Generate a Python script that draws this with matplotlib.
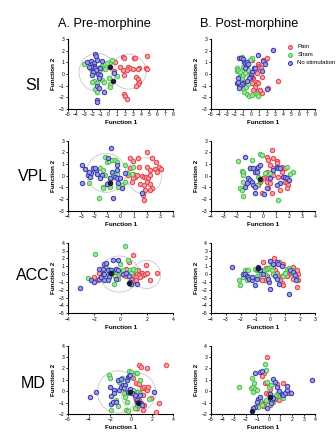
import matplotlib
matplotlib.use('Agg')
import matplotlib.pyplot as plt
from matplotlib.patches import Ellipse
from matplotlib.ticker import MultipleLocator

plt.rcParams['font.family'] = ['Liberation Sans', 'DejaVu Sans']

RED = '#e4464e'
GREEN = '#4cc24c'
BLUE = '#3b3bb5'
DARK = '#1a1a33'

# discriminant scores per region / condition / group (Function 1, Function 2)
si_pre_pain = [(0.76, 1.06), (1.75, 1.43), (1.95, 1.40), (3.09, 1.40), (3.30, 1.40), (4.81, 1.57),
               (2.36, 0.63), (1.46, 0.57), (2.69, 0.54), (2.97, 0.40), (3.71, 0.49), (3.59, 0.40),
               (4.61, 0.49), (4.73, 0.43), (1.79, 0.34), (2.28, 0.34), (1.95, -0.09), (3.42, -0.29),
               (3.59, -0.43), (3.71, -0.66), (3.59, -0.89), (3.42, -1.00), (1.95, -1.74), (2.07, -1.86),
               (2.28, -2.17), (0.64, 0.29)]
si_pre_sham = [(-3.04, 0.86), (-2.30, 0.49), (-2.02, 0.26), (-1.81, 0.14), (-1.48, 0.06), (-1.20, 0.20),
               (-1.08, 0.63), (-0.79, 0.71), (-0.58, 0.49), (-0.99, 0.34), (0.03, 0.63), (0.23, 1.06),
               (-1.81, -0.60), (-2.02, -0.66), (-1.40, -0.80), (-0.79, -0.51), (-0.58, -0.66),
               (0.03, -0.37), (0.15, -0.89), (0.23, -1.09), (-1.61, -1.29), (-1.40, -1.51),
               (-0.38, 0.43), (1.05, -0.14), (0.44, 1.20), (-0.17, 0.91)]
si_pre_nostim = [(-1.61, 1.71), (-1.52, 1.54), (-2.63, 1.06), (-2.22, 1.11), (-2.02, 0.83), (-1.81, 0.91),
                 (-1.73, 0.69), (-1.89, 0.57), (-2.02, 0.49), (-2.22, 0.63), (-1.61, 0.49), (-1.40, 1.20),
                 (-0.79, 1.14), (-0.99, 0.49), (-1.52, 0.34), (-1.89, 0.20), (-1.32, -0.03),
                 (-0.99, -0.09), (-1.20, -0.31), (-1.40, -1.00), (-1.20, -1.17), (-0.58, -1.57),
                 (-1.40, -2.23), (-1.48, -2.43), (-2.42, 0.57), (-2.02, -0.09), (0.64, 0.06)]
si_pre_dark = [(0.15, 0.57), (0.52, -0.57)]

si_post_pain = [(0.18, 1.20), (0.92, 0.83), (1.05, 0.71), (1.13, 0.63), (1.21, 0.49), (0.71, 0.49),
                (0.63, 0.26), (0.71, 0.06), (1.34, -0.23), (0.30, -0.37), (0.09, -0.23), (-0.11, -0.51),
                (0.71, -0.66), (0.92, -0.80), (0.51, -0.94), (0.09, -0.80), (0.51, -1.09), (0.30, -1.37),
                (0.92, -1.46), (1.34, -1.66), (1.13, -1.37), (2.16, -1.17), (3.41, -0.60), (1.46, 1.20),
                (1.75, 1.20), (1.96, 1.34), (-0.11, 0.14)]
si_post_sham = [(-1.77, 0.49), (-1.69, 0.26), (-1.56, 0.34), (-1.36, 0.20), (-1.44, -0.23), (-1.36, -0.43),
                (-1.15, -0.31), (-1.02, -0.09), (-0.86, -0.66), (-1.36, -0.66), (-1.56, -0.89),
                (-0.94, -1.23), (-0.86, -1.51), (-0.53, -1.74), (-0.20, -1.86), (0.09, -1.80),
                (0.71, -1.74), (0.92, -1.86), (-0.61, -1.09), (-0.32, -0.89), (0.09, 1.40),
                (-0.11, 1.20), (-1.15, 1.46), (-0.32, 0.34), (-0.94, 0.63), (-0.74, 0.06)]
si_post_nostim = [(-1.44, 1.40), (-1.27, 1.34), (-0.94, 1.29), (-0.86, 1.00), (-0.74, 0.91), (-0.53, 1.06),
                  (-0.45, 0.77), (-0.32, 0.83), (0.38, 0.49), (0.51, 0.54), (0.09, 0.20), (-0.03, -0.09),
                  (-0.11, -0.23), (-0.20, -0.37), (-0.53, -0.60), (-0.94, -0.80), (-1.15, -0.89),
                  (-1.36, -1.00), (-1.77, -0.80), (-1.56, -0.66), (-1.44, -1.23), (0.92, 1.63),
                  (2.78, 2.06), (2.04, -1.31), (1.54, 1.11), (1.75, 0.83), (1.34, 0.26), (-0.74, 0.54),
                  (-1.56, -0.37)]
si_post_dark = []

vpl_pre_pain = [(0.71, 1.54), (0.91, 1.26), (1.35, 1.49), (2.03, 2.00), (2.36, 1.54), (2.69, 1.20),
                (2.94, 0.77), (3.05, 0.57), (0.71, 0.63), (1.42, 0.71), (1.98, 0.71), (2.23, 0.49),
                (2.61, 0.54), (2.74, 0.34), (0.58, 0.06), (0.91, 0.11), (1.09, -0.09), (1.27, 0.06),
                (1.60, 0.00), (1.78, -0.09), (1.93, -0.09), (2.11, -0.17), (2.23, 0.06), (1.47, -0.74),
                (1.78, -0.80), (1.98, -0.51), (2.23, -0.74), (2.36, -1.09), (2.23, -1.23), (1.85, -1.23),
                (1.68, -1.66), (1.78, -2.09), (0.96, -0.23), (0.84, -0.57)]
vpl_pre_sham = [(-2.39, -0.66), (-1.62, -1.94), (-1.57, 0.63), (-1.37, 0.49), (-1.19, 1.63), (-1.07, 1.20),
                (-0.86, 1.26), (-0.69, 1.34), (-0.43, 1.34), (-0.30, 1.20), (-1.32, -0.94), (-1.37, -1.03),
                (-0.81, -0.46), (-0.86, -0.57), (-0.81, -0.94), (-0.69, -0.09), (-0.18, -0.94),
                (0.08, -0.80), (0.33, -0.51), (0.46, 0.20), (0.84, 0.11), (0.96, 0.77), (-0.30, 0.11),
                (-1.19, 0.06), (0.33, 0.91)]
vpl_pre_nostim = [(-2.97, 0.91), (-2.97, -0.66), (-2.72, 0.54), (-2.46, 0.06), (-2.34, -0.09), (-2.28, 0.20),
                  (-2.08, 0.63), (-1.88, 0.49), (-1.83, 0.11), (-1.45, 0.06), (-0.76, 2.34), (-0.94, 1.49),
                  (-0.30, 0.91), (-0.25, 0.49), (-0.43, -0.09), (-0.81, -0.23), (-1.07, -0.74),
                  (-0.30, -0.23), (-0.18, -0.66), (0.08, -1.09), (-0.56, -1.94), (-1.95, 0.63),
                  (-2.39, 0.29), (1.60, -1.51), (-0.05, -0.23), (-1.57, -0.23), (0.33, 0.20), (-0.69, 0.34)]
vpl_pre_dark = [(-0.81, -0.60)]

vpl_post_pain = [(0.66, 2.20), (0.28, 1.63), (0.41, 1.34), (0.79, 1.49), (1.04, 1.26), (1.43, 0.77),
                 (1.68, 0.63), (0.54, 0.91), (0.79, 0.63), (0.33, 0.34), (0.15, -0.09), (0.41, -0.23),
                 (0.03, -0.23), (-0.23, -0.57), (-0.36, -0.80), (0.28, -0.51), (0.54, -0.66), (0.41, -1.09),
                 (-0.10, -1.51), (0.66, -1.51), (1.68, -0.51), (1.81, -0.66), (1.94, -0.80), (1.81, -1.03),
                 (1.30, -1.23), (0.79, 0.06), (1.17, -0.09), (-1.50, 0.20), (1.43, 0.34), (1.04, 1.06)]
vpl_post_sham = [(-1.89, 1.26), (-1.63, 0.40), (-1.55, 0.29), (-1.50, 0.06), (-1.55, -0.51), (-1.76, -1.09),
                 (-1.63, -1.23), (-1.50, -1.74), (-0.99, 0.63), (-0.87, 1.34), (-0.48, 0.63), (-0.23, 1.83),
                 (-0.10, 1.77), (-0.36, -0.09), (-0.18, -0.37), (-0.48, -0.80), (0.15, 0.20), (0.54, 0.20),
                 (1.81, 0.77), (2.32, 0.29), (2.06, 0.11), (1.12, -2.10)]
vpl_post_nostim = [(-1.38, 1.63), (-0.99, 0.63), (-0.74, 0.63), (-0.36, 0.77), (-0.23, 0.91), (-0.61, 0.34),
                   (-0.48, 0.34), (-1.12, -0.23), (-0.99, -0.37), (-0.87, -0.51), (-0.74, -0.80),
                   (-0.61, -0.94), (-1.25, -0.66), (0.28, -1.09), (0.54, -0.23), (1.04, 0.77), (1.17, 0.63),
                   (1.30, 0.63), (1.55, -0.09), (1.68, -0.09), (1.30, -0.66), (1.04, -0.80), (1.86, -0.23),
                   (2.01, -0.37), (0.08, -1.60), (-1.38, -0.94), (0.79, 0.49), (-0.61, -1.51)]
vpl_post_dark = [(-0.23, -0.30)]

acc_pre_pain = [(0.64, 1.54), (0.95, 2.39), (1.92, 1.12), (2.74, 0.14), (2.23, -0.78), (1.33, 0.48),
                 (1.15, 0.14), (1.25, -0.02), (1.41, -0.15), (1.59, 0.14), (1.71, -0.15), (0.95, -0.28),
                 (0.82, -0.58), (1.07, -0.45), (1.20, -0.36), (1.46, -0.36), (1.84, -0.02), (1.97, 0.14),
                 (1.15, -0.79), (0.90, -1.00), (0.23, -0.15), (0.43, -0.28), (-1.61, 0.14), (-1.74, -0.70),
                 (-1.99, -0.36), (-0.84, 0.48), (-0.20, -0.15), (0.43, 0.70)]
acc_pre_sham = [(-1.92, 2.60), (0.31, 3.53), (0.56, 1.75), (-1.10, 1.33), (-0.97, 0.70), (-0.59, 0.48),
                (-0.46, 0.27), (-0.33, 0.48), (-0.08, 0.27), (0.18, 0.48), (0.43, -0.02), (0.69, 0.48),
                (0.82, 0.14), (1.07, 0.48), (-0.64, 0.14), (-0.72, -0.02), (-0.46, -0.28), (-0.20, -0.58),
                (-0.54, -1.21), (-2.51, -0.45), (0.69, -1.21), (-0.08, 1.33), (-0.84, -0.02),
                (-1.10, -0.28), (0.95, 0.70)]
acc_pre_nostim = [(-3.09, -1.72), (-2.25, -0.79), (-1.99, -1.00), (-1.66, -0.58), (-1.48, -0.36), (-1.35, 0.70),
                  (-1.23, 1.33), (-1.10, 1.42), (-1.35, 0.06), (-1.23, 0.06), (-0.97, 0.57), (-0.84, 0.14),
                  (-0.72, 0.48), (-0.20, 1.84), (-0.59, 1.75), (-0.33, 0.70), (-0.20, 0.48), (0.18, 0.06),
                  (0.43, 0.14), (0.64, -0.28), (0.69, -1.00), (0.82, -1.21), (1.25, -1.21), (-0.90, -0.36),
                  (-0.97, -0.79), (-0.33, -0.58), (-1.61, 0.70), (-1.23, -0.70)]
acc_pre_dark = [(-0.72, 0.10), (0.60, -1.10)]

acc_post_pain = [(-0.48, 1.54), (-0.30, 0.82), (0.24, 2.09), (0.59, 1.54), (0.82, 1.33), (0.30, 0.48),
                 (0.46, 0.14), (0.75, -0.28), (0.97, 0.14), (1.19, -0.15), (1.31, 0.48), (1.53, 0.91),
                 (1.75, 0.48), (1.86, 0.06), (1.71, -0.36), (1.53, -0.58), (1.80, -1.64), (1.86, -0.79),
                 (0.64, -0.79), (0.75, -1.12), (0.86, -1.42), (1.08, -0.28), (-0.21, -0.28), (-0.37, -0.70),
                 (-0.59, -0.79), (-0.81, -0.28), (-0.92, 0.48), (0.19, 0.91)]
acc_post_sham = [(-2.08, -0.70), (-1.70, 0.48), (-1.59, 0.48), (-1.48, 0.48), (-1.81, -0.36), (-2.04, -1.42),
                 (-1.55, -0.79), (-1.03, 0.70), (-0.92, 0.48), (-0.70, 0.57), (-0.48, 0.48), (-0.25, 0.70),
                 (-0.08, 0.82), (0.08, 0.48), (0.19, 0.06), (0.41, -0.28), (0.86, -0.28), (0.97, 0.14),
                 (1.13, 0.70), (1.26, 0.82), (1.42, 0.48), (1.53, -0.02), (-0.66, -0.02), (-0.37, -0.02),
                 (-0.92, -0.28), (0.01, 1.00)]
acc_post_nostim = [(-2.59, 0.91), (-1.81, 0.06), (-1.70, -0.02), (-1.59, -0.28), (-1.48, -0.36), (-1.41, -0.58),
                   (-1.26, -0.79), (-0.92, -0.58), (-1.03, -1.42), (-0.81, 0.91), (-0.81, 0.70),
                   (-0.70, 0.57), (-0.48, 0.06), (-0.08, -1.00), (-0.03, -1.84), (-0.03, 1.67), (0.19, 1.33),
                   (0.41, 1.54), (0.52, 1.33), (0.30, -0.28), (0.46, -0.58), (0.59, -1.21), (0.75, 1.00),
                   (1.31, 0.48), (1.53, 0.27), (1.64, -0.15), (1.71, -0.70), (1.26, -2.57), (-0.14, -0.58),
                   (-1.26, -0.36)]
acc_post_dark = [(-0.81, 0.80)]

md_pre_pain = [(0.73, 2.30), (0.96, 2.16), (1.50, 2.01), (3.29, 2.30), (0.16, 1.14), (0.42, 0.70),
               (0.73, 0.64), (1.05, 0.26), (1.18, 0.40), (1.44, 0.17), (1.50, 0.11), (1.60, 0.40),
               (0.73, -0.18), (0.86, -0.33), (1.12, -0.33), (0.48, -0.77), (0.54, -0.91), (0.73, -0.77),
               (0.96, -1.00), (1.18, -1.20), (1.12, -1.65), (0.54, -1.50), (1.92, -0.62), (2.65, -1.06),
               (2.33, -1.79), (0.54, -0.03), (0.32, -0.47)]
md_pre_sham = [(-2.14, 1.43), (-2.01, 1.14), (-0.86, 1.14), (-0.16, 1.81), (0.00, 1.72), (0.00, 1.28),
               (0.42, 1.57), (0.54, 1.57), (0.80, 0.99), (0.64, -0.03), (0.80, -0.18), (-0.64, -0.18),
               (-0.54, -0.47), (-0.42, -0.91), (-1.28, -1.29), (-0.48, -1.65), (-0.32, -1.70),
               (0.32, -1.50), (0.54, -1.20), (0.80, -1.20), (-1.44, -0.77), (-1.92, -1.65), (1.69, -0.71),
               (-1.12, 0.84), (-0.16, -0.18), (0.16, 0.11)]
md_pre_nostim = [(-3.93, -0.47), (-3.35, -0.03), (-2.01, 0.40), (-1.92, -0.42), (-1.92, -1.12), (-1.76, -0.91),
                 (-1.44, -0.91), (-1.12, 0.11), (-0.96, 0.40), (-1.60, 0.11), (-1.28, 0.99), (-0.96, 1.05),
                 (-0.80, 0.55), (-0.54, 0.55), (-0.42, 0.99), (-0.32, 1.28), (-0.22, 1.34), (-0.10, 1.43),
                 (-0.10, 0.17), (-0.32, -0.03), (0.32, -0.33), (0.54, -0.77), (0.80, -1.06), (0.64, -0.91),
                 (0.80, -0.33), (1.05, -1.20), (0.10, -0.18), (-0.64, 0.26), (2.14, -0.03), (-1.60, -0.18)]
md_pre_dark = [(-0.10, -0.03), (0.64, -1.00)]

md_post_pain = [(-0.13, 3.04), (-0.41, 1.63), (-0.61, 1.34), (-0.33, 0.70), (-0.13, 0.75), (-0.24, -0.12),
                (-0.04, -0.24), (0.10, 0.17), (0.68, 0.46), (0.73, 0.64), (0.25, -0.47), (0.53, -0.71),
                (0.68, -0.62), (0.96, -0.53), (0.91, -0.77), (1.25, -0.42), (1.48, -0.18), (1.68, -0.03),
                (1.77, -0.12), (0.25, -0.82), (-0.04, -0.91), (-0.33, -0.91), (-0.61, -1.06),
                (-0.47, -1.29), (-0.70, -1.00), (1.19, 0.70), (0.10, -1.20)]
md_post_sham = [(-2.53, 0.41), (-1.47, 1.14), (-1.56, 0.26), (-1.33, 0.40), (-1.19, 0.17), (-1.04, 0.11),
                (-1.33, -0.03), (-1.27, 0.75), (-0.33, 2.39), (-0.24, 1.87), (-0.13, 0.84), (0.05, 0.40),
                (0.16, 0.55), (0.45, -0.47), (0.62, -0.33), (0.82, -0.18), (0.96, -0.42), (1.11, -0.53),
                (1.25, -0.62), (0.33, -0.91), (0.16, -1.06), (-0.04, -1.20), (-0.61, -1.20),
                (-0.90, -1.35), (-0.76, -0.77), (-0.24, -0.77)]
md_post_nostim = [(-1.19, 1.57), (-0.76, 1.66), (-0.61, 1.81), (-0.90, -0.71), (-0.76, -0.53), (-1.04, -0.91),
                  (-1.19, -1.35), (-1.33, -1.50), (0.10, -0.62), (0.25, -0.77), (0.33, -0.62), (0.39, 1.05),
                  (0.53, 0.84), (0.73, 0.40), (0.91, 0.05), (1.11, -0.24), (1.25, -0.33), (1.39, -0.18),
                  (1.54, 0.11), (1.59, 0.46), (1.88, -0.12), (3.68, 0.99), (0.10, -0.24), (0.16, -1.06),
                  (-0.18, -1.50)]
md_post_dark = [(-1.47, -1.71), (0.10, -0.50)]

# group outlines on the pre-morphine plots: (center x, center y, half-width, half-height)
si_pre_rings = [(-1.39, 0.15, 2.25, 1.63), (2.48, 0.20, 2.15, 1.50)]
vpl_pre_rings = [(-1.10, 0.24, 1.50, 1.67), (1.79, 0.00, 1.33, 1.54)]
acc_pre_rings = [(-0.10, 0.00, 1.50, 2.30), (1.97, -0.05, 1.07, 1.80)]
md_pre_rings = [(-1.28, -0.06, 1.92, 1.85), (0.67, -0.10, 1.65, 1.67)]

region_names = ['SI', 'VPL', 'ACC', 'MD']
group_labels = ['Pain', 'Sham', 'No stimulation']
group_colors = [RED, GREEN, BLUE]

# axis limits / tick steps: (xmin, xmax, xstep, ymin, ymax)
pre_axes = [(-5, 8, 1, -3, 3), (-4, 4, 1, -3, 3), (-4, 4, 2, -5, 4), (-6, 4, 2, -2, 4)]
post_axes = [(-5, 8, 1, -3, 3), (-4, 4, 1, -3, 3), (-4, 3, 1, -5, 4), (-5, 4, 1, -2, 4)]

pre_sets = [
    (si_pre_pain, si_pre_sham, si_pre_nostim, si_pre_dark),
    (vpl_pre_pain, vpl_pre_sham, vpl_pre_nostim, vpl_pre_dark),
    (acc_pre_pain, acc_pre_sham, acc_pre_nostim, acc_pre_dark),
    (md_pre_pain, md_pre_sham, md_pre_nostim, md_pre_dark),
]
post_sets = [
    (si_post_pain, si_post_sham, si_post_nostim, si_post_dark),
    (vpl_post_pain, vpl_post_sham, vpl_post_nostim, vpl_post_dark),
    (acc_post_pain, acc_post_sham, acc_post_nostim, acc_post_dark),
    (md_post_pain, md_post_sham, md_post_nostim, md_post_dark),
]
pre_rings = [si_pre_rings, vpl_pre_rings, acc_pre_rings, md_pre_rings]

W, H = 336, 437
# axes boxes in pixels: (top, bottom) per row
row_px = [(39, 109), (140.7, 210.7), (242.7, 313.3), (345.7, 414)]
col_px = [(68, 173.3), (210.7, 315.3)]
label_y = [86, 177, 276, 384]


def lighten(hexcol, amt=0.5):
    r, g, b = matplotlib.colors.to_rgb(hexcol)
    return (r + (1 - r) * amt, g + (1 - g) * amt, b + (1 - b) * amt)


def style_axis(ax, lims):
    xmin, xmax, xstep, ymin, ymax = lims
    ax.set_xlim(xmin, xmax)
    ax.set_ylim(ymin, ymax)
    ax.xaxis.set_major_locator(MultipleLocator(xstep))
    ax.yaxis.set_major_locator(MultipleLocator(1))
    for side in ('top', 'right'):
        ax.spines[side].set_visible(False)
    for side in ('left', 'bottom'):
        ax.spines[side].set_linewidth(0.8)
    ax.tick_params(length=1.5, width=0.6, pad=1, labelsize=3.6)
    ax.set_xlabel('Function 1', fontsize=4.6, fontweight='bold', labelpad=2)
    ax.set_ylabel('Function 2', fontsize=4.6, fontweight='bold', labelpad=2)


def draw_groups(ax, groups):
    handles = []
    for pts, col, lab in zip(groups[:3], group_colors, group_labels):
        xs = [p[0] for p in pts]
        ys = [p[1] for p in pts]
        h = ax.scatter(xs, ys, s=10, facecolors=[lighten(col)], edgecolors=col,
                       linewidths=0.75, label=lab, zorder=3)
        handles.append(h)
    dark = groups[3]
    if dark:
        ax.scatter([p[0] for p in dark], [p[1] for p in dark], s=10, facecolors=DARK,
                   edgecolors=DARK, linewidths=0.75, zorder=4)
    return handles


fig = plt.figure(figsize=(W / 100, H / 100), dpi=100)

for r in range(4):
    top, bot = row_px[r]
    for c in range(2):
        left, right = col_px[c]
        ax = fig.add_axes([left / W, 1 - bot / H, (right - left) / W, (bot - top) / H])
        ax.patch.set_alpha(0)
        if c == 0:
            style_axis(ax, pre_axes[r])
            for cx, cy, hw, hh in pre_rings[r]:
                ax.add_patch(Ellipse((cx, cy), 2 * hw, 2 * hh, fill=False,
                                     edgecolor='#c8c8c8', linewidth=0.6, zorder=2))
            draw_groups(ax, pre_sets[r])
        else:
            style_axis(ax, post_axes[r])
            handles = draw_groups(ax, post_sets[r])
            if r == 0:
                ax.legend(handles=handles, loc='upper left', bbox_to_anchor=(0.68, 0.96),
                          fontsize=4.3, frameon=False, handletextpad=0.2, labelspacing=0.45,
                          borderaxespad=0, markerscale=0.9)
    fig.text(33 / W, 1 - label_y[r] / H, region_names[r], fontsize=11.5,
             ha='center', va='center')

fig.text(104 / W, 1 - 24 / H, 'A. Pre-morphine', fontsize=9.2, ha='center', va='center')
fig.text(249 / W, 1 - 24 / H, 'B. Post-morphine', fontsize=9.2, ha='center', va='center')

fig.savefig('out.png', dpi=100)
